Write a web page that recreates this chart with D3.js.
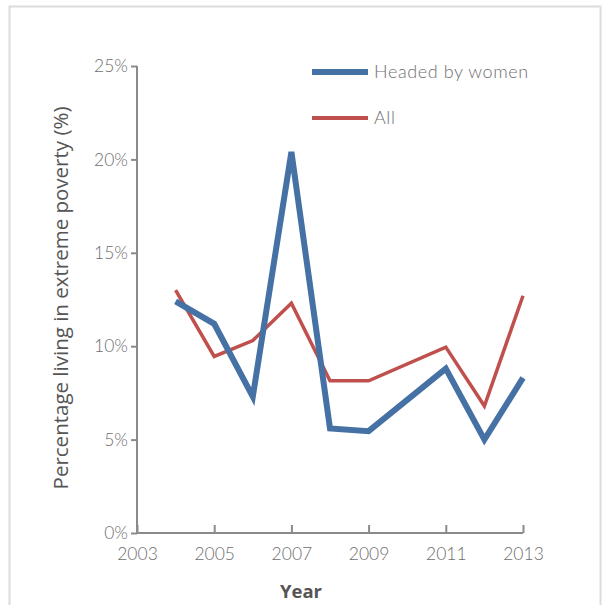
<!DOCTYPE html>
<html><head><meta charset="utf-8">
<script src="https://cdn.jsdelivr.net/npm/d3@7"></script>
<style>body{margin:0;background:#fff;} svg{display:block;}</style>
</head><body>
<svg id="c" width="606" height="605"></svg>
<script>
const years = [2004, 2005, 2006, 2007, 2008, 2009, 2011, 2012, 2013];
const womenValues = [12.4, 11.2, 7.3, 20.4, 5.6, 5.45, 8.8, 5.0, 8.3];
const allValues = [13.0, 9.45, 10.3, 12.3, 8.15, 8.15, 9.95, 6.8, 12.7];
const seriesNames = ["Headed by women", "All"];
const yTicks = [0, 5, 10, 15, 20, 25];
const xTicks = [2003, 2005, 2007, 2009, 2011, 2013];

const svg = d3.select("#c");
const font = "Lato, 'Open Sans', sans-serif";
const axisCol = "#8a8a8a", textCol = "#6e6e6e";

// frame
svg.append("rect").attr("x", 9.5).attr("y", 6.5).attr("width", 591).attr("height", 610)
  .attr("fill", "none").attr("stroke", "#dcdcdc").attr("stroke-width", 2);

const x = d3.scaleLinear().domain([2003, 2013]).range([137, 523]);
const y = d3.scaleLinear().domain([0, 25]).range([533, 66]);

const xa = svg.append("g").attr("transform", "translate(0,533)")
  .call(d3.axisBottom(x).tickValues(xTicks).tickFormat(d3.format("d")).tickSize(8).tickPadding(4));
const ya = svg.append("g").attr("transform", "translate(137,0)")
  .call(d3.axisLeft(y).tickValues(yTicks).tickFormat(d => d + "%").tickSize(6).tickPadding(3));
[xa, ya].forEach(a => {
  a.select(".domain").attr("stroke", axisCol).attr("stroke-width", 2);
  a.selectAll(".tick line").attr("stroke", axisCol).attr("stroke-width", 2);
  a.selectAll(".tick text").attr("fill", textCol).attr("font-family", font).attr("font-size", 17.5).attr("font-weight", 300);
});
xa.select(".domain").attr("d", "M137,0H523");
xa.selectAll(".tick line").attr("y2", -8).attr("y1", 0);
xa.selectAll(".tick text").attr("dy", "0.71em").attr("y", 15);
ya.select(".domain").attr("d", "M0,66V533");

const line = d3.line().x((d, i) => x(years[i])).y(d => y(d));
svg.append("path").datum(allValues).attr("d", line).attr("fill", "none")
  .attr("stroke", "#c0504d").attr("stroke-width", 3.5).attr("stroke-linejoin", "miter");
svg.append("path").datum(womenValues).attr("d", line).attr("fill", "none")
  .attr("stroke", "#4671a5").attr("stroke-width", 6).attr("stroke-linejoin", "miter");

// legend
const leg = [{n: seriesNames[0], c: "#4671a5", w: 6, y: 72}, {n: seriesNames[1], c: "#c0504d", w: 4, y: 118}];
leg.forEach(l => {
  svg.append("line").attr("x1", 312).attr("x2", 368).attr("y1", l.y).attr("y2", l.y)
    .attr("stroke", l.c).attr("stroke-width", l.w);
  svg.append("text").attr("x", 374).attr("y", l.y).attr("dy", "0.35em").text(l.n)
    .attr("fill", textCol).attr("font-family", font).attr("font-size", 18).attr("font-weight", 300)
    .attr("letter-spacing", 0.6);
});

// axis titles
svg.append("text").attr("transform", "translate(68,298) rotate(-90)").attr("text-anchor", "middle")
  .text("Percentage living in extreme poverty (%)").attr("fill", "#555")
  .attr("font-family", "'Open Sans', sans-serif").attr("font-size", 20.5);
svg.append("text").attr("x", 301).attr("y", 598).attr("text-anchor", "middle")
  .text("Year").attr("fill", "#555").attr("font-family", "'Open Sans', sans-serif").attr("font-size", 18.5).attr("font-weight", "bold");
</script>
</body></html>
